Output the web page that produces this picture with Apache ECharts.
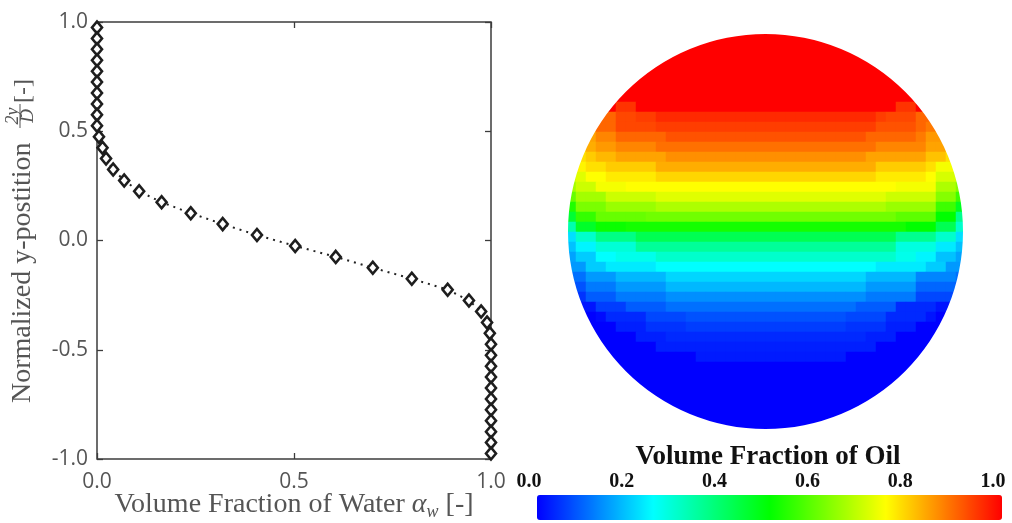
<!DOCTYPE html>
<html>
<head>
<meta charset="utf-8">
<title>Water / oil volume fraction</title>
<script src="https://cdn.jsdelivr.net/npm/echarts@6/dist/echarts.min.js"></script>
<style>
  html, body { margin: 0; padding: 0; background: #fff; }
  #chart { width: 1012px; height: 523px; }
</style>
</head>
<body>
<div id="chart"></div>
<script>
// Vertical profile: normalized y-position 2y/D and water volume fraction
const yPosition = [
  0.975, 0.925, 0.875, 0.825, 0.775, 0.725, 0.675, 0.625, 0.575, 0.525,
  0.475, 0.425, 0.375, 0.325, 0.275, 0.225, 0.175, 0.125, 0.075, 0.025,
  -0.025, -0.075, -0.125, -0.175, -0.225, -0.275, -0.325, -0.375, -0.425, -0.475,
  -0.525, -0.575, -0.625, -0.675, -0.725, -0.775, -0.825, -0.875, -0.925, -0.975
];
const waterFraction = [
  0.000, 0.000, 0.000, 0.000, 0.000, 0.000, 0.000, 0.000, 0.000, 0.000,
  0.005, 0.014, 0.023, 0.041, 0.069, 0.107, 0.164, 0.238, 0.319, 0.406,
  0.503, 0.606, 0.700, 0.799, 0.890, 0.944, 0.975, 0.990, 0.997, 1.000,
  1.000, 1.000, 1.000, 1.000, 1.000, 1.000, 1.000, 1.000, 1.000, 1.000
];

// Cross-section: oil volume fraction in percent, 40 x 40 cells, top row first.
// "v" = one cell, "vxN" = N cells of value v, "." = cell outside the pipe.
const oilRows = [
  '.x13 100x14 .x13',
  '.x11 100x18 .x11',
  '.x9 100x22 .x9',
  '.x8 100x24 .x8',
  '.x6 100x28 .x6',
  '.x5 100x30 .x5',
  '.x4 100x32 .x4',
  '.x4 100 95x2 100x26 95x2 100 .x4',
  '.x3 90x2 93x2 94x2 96x22 94 93x3 90x2 .x3',
  '.x2 87 90x2 93x4 94x22 92x4 90 88x2 .x2',
  '.x2 84 87x2 90x5 92x20 90x5 88 85x2 .x2',
  '. 80 83 85x2 87x4 89x22 87x5 84x2 80 .',
  '. 78 80 82x2 84x5 86x20 84x6 81x2 78 .',
  '72 76 78x2 80x5 83x22 80x5 78 74x2 71',
  '70 72 75x2 77x5 79x22 77x5 75 71x2 69',
  '66 70x2 74x3 75x27 74x4 67x2 63',
  '60 66x3 70x5 72x23 70x5 63x2 56',
  '53 62x3 65x5 67x23 65x5 56x2 47',
  '45 55x2 60x5 61x25 59x4 50x2 36',
  '33 46x2 51x3 52x28 50x3 42x2 30',
  '22 30x2 37x4 42x26 36x4 30x2 22',
  '19 24x2 29x4 35x26 28x4 23x2 19',
  '16 20x2 25x2 27x4 30x24 27x2 24x2 19x2 16',
  '15x2 20x2 23x5 25x22 23x5 20x2 15x2',
  '11x2 15x3 18x5 21x20 18x5 13x4 11',
  '8x2 12x3 15x5 18x20 15x5 10x4 8',
  '3 5 9x3 12x5 14x20 12x5 7x4 4',
  '. 2x2 6x3 9x4 11x19 9x4 4x4 2x2 .',
  '. 0x2 1 4x4 7x4 8x16 7x4 4x4 2 0x2 .',
  '.x2 0x3 3x3 5x4 6x16 5x4 3x3 0x3 .x2',
  '.x2 0x5 3x3 4x20 3x3 0x5 .x2',
  '.x3 0x6 3x22 0x6 .x3',
  '.x4 0x9 2.5x15 0x8 .x4',
  '.x4 0x32 .x4',
  '.x5 0x30 .x5',
  '.x6 0x28 .x6',
  '.x8 0x24 .x8',
  '.x9 0x22 .x9',
  '.x11 0x18 .x11',
  '.x13 0x14 .x13'
];
const jetColors = ['#0000ff', '#00ffff', '#00ff00', '#ffff00', '#ff0000'];

function parseRow(str) {
  const cells = [];
  str.trim().split(/\s+/).forEach(function (tok) {
    const parts = tok.split('x');
    const count = parts.length > 1 ? parseInt(parts[1], 10) : 1;
    for (let i = 0; i < count; i++) {
      cells.push(parts[0] === '.' ? null : parseFloat(parts[0]) / 100);
    }
  });
  return cells;
}

const profileData = waterFraction.map(function (w, i) { return [w, yPosition[i]]; });

const cellCols = [];
const cellRows = [];
const heatData = [];
oilRows.forEach(function (row, j) {
  cellRows.push(String(j));
  parseRow(row).forEach(function (v, k) {
    if (v !== null) heatData.push([k, j, v]);
  });
});
for (let k = 0; k < 40; k++) { cellCols.push(String(k)); }

const gray = '#555555';
const frame = '#3c3c3c';
const serif = 'Liberation Serif';
const fmt1 = function (v) { return v.toFixed(1); };

const tickStyle = { show: true, inside: true, length: 6, lineStyle: { color: frame, width: 1.3 } };
const hiddenLine = { show: false, onZero: false };

const chart = echarts.init(document.getElementById('chart'), null, { renderer: 'canvas' });

const pipe = { cx: 765.5, cy: 231.5, r: 197.5 };

chart.setOption({
  animation: false,
  backgroundColor: '#ffffff',
  grid: [
    { left: 97, top: 22, width: 394, height: 437, show: true, borderColor: frame, borderWidth: 1.5, backgroundColor: 'transparent', outerBoundsMode: 'none', containLabel: false },
    { left: 566, top: 32, width: 400, height: 400, outerBoundsMode: 'none', containLabel: false },
    { left: 529, top: 496, width: 464, height: 1, outerBoundsMode: 'none', containLabel: false }
  ],
  xAxis: [
    {
      gridIndex: 0, type: 'value', min: 0, max: 1, interval: 0.5, position: 'bottom',
      axisLine: hiddenLine, axisTick: tickStyle, splitLine: { show: false },
      axisLabel: { formatter: fmt1, color: gray, fontFamily: 'Open Sans', fontSize: 21, margin: 13 },
      name: '{t|Volume Fraction of Water }{a|α}{w|w}{t| [-]}',
      nameLocation: 'middle', nameGap: 30, nameMoveOverlap: false,
      nameTextStyle: {
        rich: {
          t: { fontFamily: serif, fontSize: 28, color: gray, lineHeight: 32 },
          a: { fontFamily: serif, fontStyle: 'italic', fontSize: 28, color: gray, lineHeight: 32 },
          w: { fontFamily: serif, fontStyle: 'italic', fontSize: 18, color: gray, lineHeight: 32, verticalAlign: 'bottom' }
        }
      }
    },
    {
      gridIndex: 0, type: 'value', min: 0, max: 1, interval: 0.5, position: 'top',
      axisLine: hiddenLine, axisTick: tickStyle, splitLine: { show: false }, axisLabel: { show: false }
    },
    { gridIndex: 1, type: 'category', data: cellCols, show: false },
    {
      gridIndex: 2, type: 'value', min: 0, max: 1, interval: 0.2, position: 'top',
      axisLine: hiddenLine, axisTick: { show: false }, splitLine: { show: false },
      axisLabel: { formatter: fmt1, color: '#111', fontFamily: serif, fontWeight: 'bold', fontSize: 20, margin: 4 }
    }
  ],
  yAxis: [
    {
      gridIndex: 0, type: 'value', min: -1, max: 1, interval: 0.5, position: 'left',
      axisLine: hiddenLine, axisTick: tickStyle, splitLine: { show: false },
      axisLabel: { formatter: fmt1, color: gray, fontFamily: 'Open Sans', fontSize: 21, margin: 9 }
    },
    {
      gridIndex: 0, type: 'value', min: -1, max: 1, interval: 0.5, position: 'right',
      axisLine: hiddenLine, axisTick: tickStyle, splitLine: { show: false }, axisLabel: { show: false }
    },
    { gridIndex: 1, type: 'category', data: cellRows, inverse: true, show: false },
    { gridIndex: 2, type: 'value', show: false }
  ],
  visualMap: {
    type: 'continuous', seriesIndex: 1, min: 0, max: 1,
    orient: 'horizontal', left: 532, top: 490, padding: 5,
    itemWidth: 25, itemHeight: 465,
    calculable: false, hoverLink: false, showLabel: false,
    inRange: { color: jetColors }
  },
  series: [
    {
      type: 'line', xAxisIndex: 0, yAxisIndex: 0, data: profileData,
      symbol: 'diamond', symbolSize: [10, 12], showAllSymbol: true,
      itemStyle: { color: '#ffffff', borderColor: '#1e1e1e', borderWidth: 2.6 },
      lineStyle: { color: '#222222', width: 2, type: [2, 5] },
      emphasis: { disabled: true }, z: 3
    },
    {
      type: 'heatmap', xAxisIndex: 2, yAxisIndex: 2, data: heatData,
      itemStyle: { borderWidth: 0 },
      emphasis: { disabled: true }, progressive: 0
    }
  ],
  graphic: [
    {
      type: 'ring', silent: true, z: 100,
      shape: { cx: pipe.cx, cy: pipe.cy, r: pipe.r + 22, r0: pipe.r },
      style: { fill: '#ffffff' }
    },
    {
      type: 'text', x: 768, y: 457, z: 101, silent: true,
      style: { text: 'Volume Fraction of Oil', fontFamily: serif, fontWeight: 'bold', fontSize: 27, fill: '#111', textAlign: 'center', textVerticalAlign: 'middle' }
    },
    {
      type: 'text', x: 23, y: 403, rotation: Math.PI / 2, silent: true,
      style: { text: 'Normalized y-postition', fontFamily: serif, fontSize: 28, fill: gray, textAlign: 'left', textVerticalAlign: 'middle' }
    },
    {
      type: 'text', x: 13, y: 116, rotation: Math.PI / 2, silent: true,
      style: { text: '2y', fontFamily: serif, fontStyle: 'italic', fontSize: 18, fill: gray, textAlign: 'center', textVerticalAlign: 'middle' }
    },
    {
      type: 'line', silent: true,
      shape: { x1: 20, y1: 104, x2: 20, y2: 128 },
      style: { stroke: gray, lineWidth: 1 }
    },
    {
      type: 'text', x: 28, y: 116, rotation: Math.PI / 2, silent: true,
      style: { text: 'D', fontFamily: serif, fontStyle: 'italic', fontSize: 19, fill: gray, textAlign: 'center', textVerticalAlign: 'middle' }
    },
    {
      type: 'text', x: 24, y: 91, rotation: Math.PI / 2, silent: true,
      style: { text: '[-]', fontFamily: serif, fontSize: 24, fill: gray, textAlign: 'center', textVerticalAlign: 'middle' }
    }
  ]
});
</script>
</body>
</html>
